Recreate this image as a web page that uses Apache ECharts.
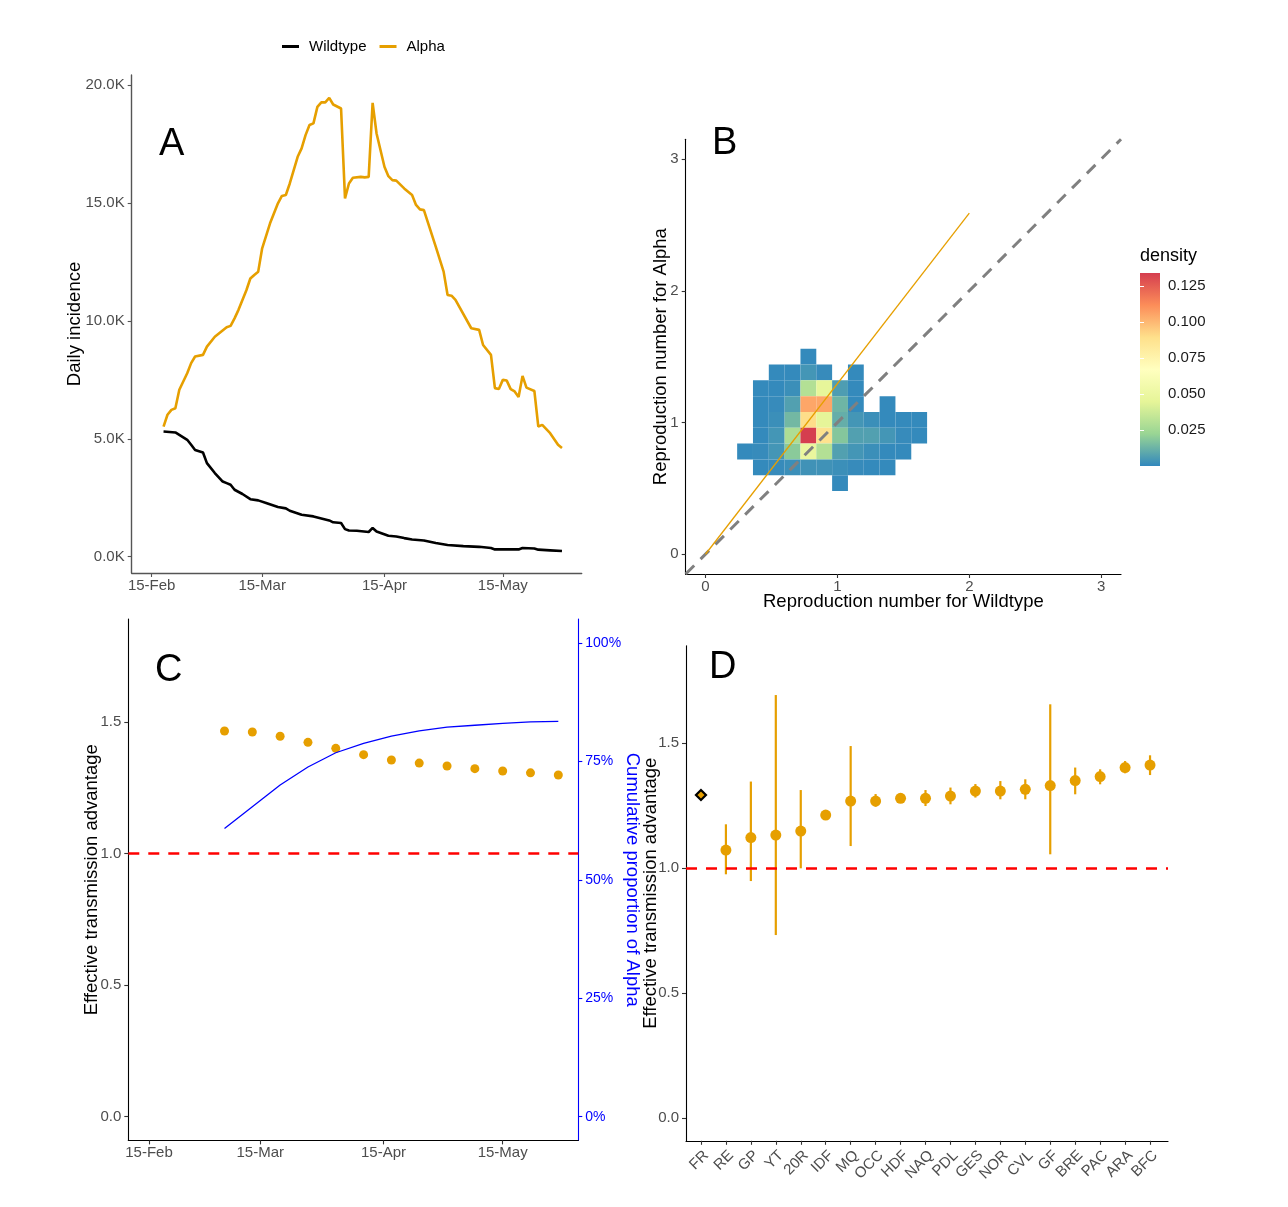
<!DOCTYPE html>
<html><head><meta charset="utf-8">
<script src="https://cdn.jsdelivr.net/npm/echarts@6/dist/echarts.min.js"></script>
<style>html,body{margin:0;padding:0;background:#fff}#c{width:1288px;height:1207px}</style>
</head><body><div id="c"></div>
<script>
// ---------- Panel A: daily incidence (days since 15-Feb-2021, thousands) ----------
const timeTickDays = [0, 28, 59, 89];
const timeTickLabels = ['15-Feb', '15-Mar', '15-Apr', '15-May'];
const wtDay = [3,6,7,9,10,11,13,14,16,18,19,20,21,23,25,27,29,32,34,35,38,41,45,46,48,49,50,52,55,56,57,60,62,64,66,69,72,75,79,83,86,87,93,94,97,98,101,104];
const wtK = [5.31,5.27,5.17,4.96,4.75,4.53,4.42,3.97,3.55,3.19,3.12,3.05,2.84,2.66,2.44,2.39,2.28,2.11,2.05,1.95,1.78,1.71,1.54,1.46,1.43,1.17,1.11,1.10,1.05,1.22,1.07,0.89,0.86,0.79,0.73,0.69,0.58,0.50,0.45,0.42,0.37,0.31,0.31,0.37,0.35,0.30,0.27,0.24];
const alphaDay = [3,4,5,6,7,9,10,11,13,14,16,19,20,21,22,24,25,26,27,28,30,32,33,34,35,37,38,39,40,41,42,43,44,45,46,48,49,50,51,53,54,55,56,57,59,60,61,62,64,65,66,67,68,69,72,74,75,76,77,81,83,84,86,87,88,89,90,91,92,93,94,95,97,98,99,101,103,104];
const alphaK = [5.52,6.02,6.23,6.30,7.08,7.78,8.21,8.49,8.56,8.91,9.33,9.73,9.79,10.11,10.47,11.3,11.8,11.95,12.09,13.08,14.14,14.99,15.30,15.34,15.83,16.96,17.32,17.88,18.31,18.38,19.08,19.27,19.27,19.46,19.18,19.01,15.20,15.83,16.07,16.11,16.09,16.11,19.25,17.95,16.54,16.14,15.97,15.95,15.62,15.48,15.34,14.92,14.73,14.70,13.15,12.09,11.10,11.07,10.89,9.69,9.62,8.98,8.56,7.15,7.11,7.50,7.47,7.11,7.01,6.77,7.67,7.17,7.03,5.52,5.59,5.24,4.75,4.61];
const incidenceTicksK = [0, 5, 10, 15, 20];

// ---------- Panel B: 2D density of reproduction numbers ----------
const rTicks = [0, 1, 2, 3];
const binWidth = 0.12;
const densityColStarts = [0.24,0.36,0.48,0.60,0.72,0.84,0.96,1.08,1.20,1.32,1.44,1.56];
const densityRowStarts = [1.44,1.32,1.20,1.08,0.96,0.84,0.72,0.60,0.48];
const densityGrid = [
  [null,null,null,null,0.0005,null,null,null,null,null,null,null],
  [null,null,0.0005,0.0005,0.004,0.001,null,0.0005,null,null,null,null],
  [null,0.0005,0.0005,0.002,0.030,0.046,0.006,0.0005,null,null,null,null],
  [null,0.0005,0.001,0.007,0.105,0.105,0.013,0.0005,null,0.0005,null,null],
  [null,0.0005,0.002,0.014,0.090,0.045,0.011,0.004,0.002,0.0005,0.0005,0.0005],
  [null,0.0005,0.004,0.028,0.134,0.088,0.018,0.007,0.007,0.004,0.001,0.0005],
  [0.0005,0.001,0.004,0.019,0.048,0.030,0.007,0.004,0.002,0.0005,0.0005,null],
  [null,0.0005,0.001,0.002,0.003,0.003,0.002,0.001,0.0005,0.0005,null,null],
  [null,null,null,null,null,null,0.0005,null,null,null,null,null]
];
const densityMax = 0.134;
const densityTicks = [0.025, 0.050, 0.075, 0.100, 0.125];
const fitLineWt = [0, 2];
const fitLineAlpha = [0, 2.59];
const rAxisRange = [-0.15, 3.15];

// ---------- Panel C: weekly advantage + cumulative proportion ----------
const cDays = [19,26,33,40,47,54,61,68,75,82,89,96,103];
const cAdvantage = [1.465,1.461,1.445,1.422,1.399,1.375,1.355,1.343,1.332,1.322,1.313,1.306,1.298];
const cAlphaPct = [60.8,65.4,70.0,73.8,76.8,78.8,80.3,81.4,82.2,82.6,83.0,83.3,83.4];
const advTicks = [0, 0.5, 1.0, 1.5];
const pctTicks = [0, 25, 50, 75, 100];

// ---------- Panel D: regional advantage ----------
const regions = ['FR','RE','GP','YT','20R','IDF','MQ','OCC','HDF','NAQ','PDL','GES','NOR','CVL','GF','BRE','PAC','ARA','BFC'];
const regionEst = [1.293,1.073,1.123,1.133,1.149,1.213,1.269,1.269,1.280,1.280,1.289,1.309,1.309,1.316,1.331,1.351,1.367,1.403,1.413];
const regionLow = [null,0.976,0.949,0.733,1.000,null,1.089,1.246,null,1.249,1.256,1.283,1.276,1.276,1.056,1.296,1.336,1.380,1.373];
const regionHigh = [null,1.176,1.347,1.693,1.313,null,1.489,1.297,null,1.313,1.323,1.337,1.349,1.356,1.656,1.403,1.396,1.429,1.452];

// ---------- styling ----------
const FONT = '"Liberation Sans", Arial, Helvetica, sans-serif';
const ORANGE = '#E69F00';
const tickText = { color: '#4d4d4d', fontSize: 15, fontFamily: FONT };
const titleText = { color: '#000', fontSize: 18.5, fontFamily: FONT };
const spectral = ['#3288bd','#99d594','#e6f598','#ffffbf','#fee08b','#fc8d59','#d53e4f'];

function hex2rgb(h){ return [1,3,5].map(i => parseInt(h.slice(i,i+2),16)); }
function densityColor(d){
  let t = Math.max(0, Math.min(1, d / densityMax)) * (spectral.length - 1);
  const i = Math.min(Math.floor(t), spectral.length - 2), f = t - i;
  const a = hex2rgb(spectral[i]), b = hex2rgb(spectral[i+1]);
  return 'rgb(' + a.map((v,k) => Math.round(v + (b[k]-v)*f)).join(',') + ')';
}

function axis(o){
  const lineColor = o.lineColor || '#000';
  const tickColor = o.tickColor || '#333';
  const lbl = Object.assign({}, tickText, o.labelStyle || {});
  return {
    type: 'value', gridIndex: o.grid, min: o.min, max: o.max, position: o.position,
    splitLine: { show: false },
    axisLine: { show: true, onZero: false, lineStyle: { color: lineColor, width: o.lineWidth || 1.1 } },
    axisTick: { show: true, length: 4, customValues: o.ticks, lineStyle: { color: tickColor, width: 1.1 } },
    axisLabel: Object.assign({ customValues: o.ticks, formatter: o.fmt, margin: o.margin || 7, rotate: o.rotate || 0 }, lbl),
    name: o.name || '', nameLocation: 'middle', nameGap: o.nameGap || 0, nameRotate: o.nameRotate,
    nameMoveOverlap: false,
    nameTextStyle: Object.assign({}, titleText, o.nameStyle || {})
  };
}

const wtData = wtDay.map((d,i) => [d, wtK[i]]);
const alphaData = alphaDay.map((d,i) => [d, alphaK[i]]);
const timeFmt = v => timeTickLabels[timeTickDays.indexOf(Math.round(v))] || '';

const heatData = [];
densityRowStarts.forEach((y, r) => densityColStarts.forEach((x, c) => {
  const d = densityGrid[r][c];
  if (d != null) heatData.push([x, y, d]);
}));

const cAdvData = cDays.map((d,i) => [d, cAdvantage[i]]);
const cPctData = cDays.map((d,i) => [d, cAlphaPct[i]]);
const regionIdx = regions.map((_, i) => i + 1);
const dPoints = regions.map((r, i) => {
  const item = { value: [i + 1, regionEst[i]] };
  if (r === 'FR') {
    item.symbol = 'diamond'; item.symbolSize = 10;
    item.itemStyle = { color: ORANGE, borderColor: '#000', borderWidth: 2.2 };
  }
  return item;
});
const dBars = [];
regions.forEach((r, i) => { if (regionLow[i] != null) dBars.push([i + 1, regionLow[i], regionHigh[i]]); });

const redLine = {
  silent: true, symbol: ['none','none'], label: { show: false }, animation: false,
  lineStyle: { color: '#ff0000', width: 2.5, type: [11, 9] }, data: [{ yAxis: 1 }]
};

const colorbarTick = { show: true, inside: true, length: 4, customValues: densityTicks, lineStyle: { color: '#fff', width: 1 } };

const option = {
  animation: false,
  backgroundColor: '#fff',
  legend: {
    data: ['Wildtype', 'Alpha'], left: 277, top: 34, icon: 'rect', itemWidth: 17, itemHeight: 3, itemGap: 13,
    textStyle: { color: '#000', fontSize: 15, fontFamily: FONT, padding: [0, 0, 0, 5] }
  },
  grid: [
    { left: 131.7, top: 75, width: 450, height: 498 },
    { left: 685.7, top: 139.3, width: 435.3, height: 434.7 },
    { left: 128.3, top: 619.1, width: 450, height: 521.3 },
    { left: 686, top: 645.8, width: 482, height: 495 },
    { left: 1140, top: 273, width: 20, height: 193 }
  ],
  xAxis: [
    axis({ grid: 0, min: -5.07, max: 109.0, ticks: timeTickDays, fmt: timeFmt, lineColor: '#555', tickColor: '#555', lineWidth: 1.4, margin: 5 }),
    axis({ grid: 1, min: rAxisRange[0], max: rAxisRange[1], ticks: rTicks, fmt: v => String(v), margin: 5,
           name: 'Reproduction number for Wildtype', nameGap: 18 }),
    axis({ grid: 2, min: -5.21, max: 108.03, ticks: timeTickDays, fmt: timeFmt, margin: 5 }),
    axis({ grid: 3, min: 0.4, max: 19.72, ticks: regionIdx, fmt: v => regions[Math.round(v) - 1] || '', rotate: 45, margin: 7,
           labelStyle: { verticalAlign: 'top' } }),
    { type: 'value', gridIndex: 4, min: 0, max: 1, show: false }
  ],
  yAxis: [
    axis({ grid: 0, min: -0.69, max: 20.43, ticks: incidenceTicksK, fmt: v => v.toFixed(1) + 'K', lineColor: '#555', tickColor: '#555', lineWidth: 1.4,
           name: 'Daily incidence', nameGap: 47.5 }),
    axis({ grid: 1, min: rAxisRange[0], max: rAxisRange[1], ticks: rTicks, fmt: v => String(v),
           name: 'Reproduction number for Alpha', nameGap: 15 }),
    axis({ grid: 2, min: -0.09, max: 1.89, ticks: advTicks, fmt: v => v.toFixed(1),
           name: 'Effective transmission advantage', nameGap: 27 }),
    axis({ grid: 2, min: -5, max: 105, position: 'right', ticks: pctTicks, fmt: v => v + '%', lineColor: '#0000ff', tickColor: '#0000ff',
           labelStyle: { color: '#0000ff', fontSize: 14 }, name: 'Cumulative proportion of Alpha', nameGap: 44, nameRotate: -90,
           nameStyle: { color: '#0000ff' } }),
    axis({ grid: 3, min: -0.09, max: 1.89, ticks: advTicks, fmt: v => v.toFixed(1),
           name: 'Effective transmission advantage', nameGap: 26 }),
    { type: 'value', gridIndex: 4, min: 0, max: densityMax, position: 'right', splitLine: { show: false },
      axisLine: { show: false }, axisTick: colorbarTick, z: 5,
      axisLabel: { customValues: densityTicks, formatter: v => v.toFixed(3), margin: 8, color: '#1a1a1a', fontSize: 15, fontFamily: FONT } },
    { type: 'value', gridIndex: 4, min: 0, max: densityMax, position: 'left', splitLine: { show: false },
      axisLine: { show: false }, axisTick: colorbarTick, axisLabel: { show: false }, z: 5 }
  ],
  series: [
    { name: 'Wildtype', type: 'line', xAxisIndex: 0, yAxisIndex: 0, data: wtData, showSymbol: false,
      lineStyle: { color: '#000', width: 2.6 }, itemStyle: { color: '#000' } },
    { name: 'Alpha', type: 'line', xAxisIndex: 0, yAxisIndex: 0, data: alphaData, showSymbol: false,
      lineStyle: { color: ORANGE, width: 2.6 }, itemStyle: { color: ORANGE } },
    { type: 'custom', xAxisIndex: 1, yAxisIndex: 1, data: heatData, clip: true,
      renderItem: (params, api) => {
        const x = api.value(0), y = api.value(1), d = api.value(2);
        const p0 = api.coord([x, y + binWidth]), p1 = api.coord([x + binWidth, y]);
        return { type: 'rect', shape: { x: p0[0], y: p0[1], width: p1[0] - p0[0], height: p1[1] - p0[1] },
                 style: { fill: densityColor(d) } };
      } },
    { type: 'line', xAxisIndex: 1, yAxisIndex: 1, showSymbol: false, silent: true,
      data: [[rAxisRange[0], rAxisRange[0]], [rAxisRange[1], rAxisRange[1]]],
      lineStyle: { color: '#808080', width: 3, type: [12, 9] } },
    { type: 'line', xAxisIndex: 1, yAxisIndex: 1, showSymbol: false, silent: true,
      data: fitLineWt.map((x, i) => [x, fitLineAlpha[i]]),
      lineStyle: { color: ORANGE, width: 1.3 } },
    { type: 'line', xAxisIndex: 2, yAxisIndex: 3, data: cPctData, showSymbol: false,
      lineStyle: { color: '#0000ff', width: 1.3 } },
    { type: 'scatter', xAxisIndex: 2, yAxisIndex: 2, data: cAdvData, symbolSize: 9,
      itemStyle: { color: ORANGE, opacity: 1 }, markLine: redLine },
    { type: 'custom', xAxisIndex: 3, yAxisIndex: 4, data: dBars,
      renderItem: (params, api) => {
        const a = api.coord([api.value(0), api.value(1)]), b = api.coord([api.value(0), api.value(2)]);
        return { type: 'line', shape: { x1: a[0], y1: a[1], x2: b[0], y2: b[1] }, style: { stroke: ORANGE, lineWidth: 2.2 } };
      } },
    { type: 'scatter', xAxisIndex: 3, yAxisIndex: 4, data: dPoints, symbolSize: 11,
      itemStyle: { color: ORANGE, opacity: 1 }, markLine: redLine, z: 3 },
    { type: 'custom', xAxisIndex: 4, yAxisIndex: 5, data: [[0, 0, 1, densityMax]], z: 1,
      renderItem: (params, api) => {
        const p0 = api.coord([api.value(0), api.value(3)]), p1 = api.coord([api.value(2), api.value(1)]);
        const stops = spectral.map((c, i) => ({ offset: 1 - i / (spectral.length - 1), color: c }));
        return { type: 'rect', shape: { x: p0[0], y: p0[1], width: p1[0] - p0[0], height: p1[1] - p0[1] },
                 style: { fill: new echarts.graphic.LinearGradient(0, 0, 0, 1, stops.reverse()) } };
      } }
  ],
  graphic: [
    { type: 'text', x: 159, y: 145, style: { text: 'A', font: '38px ' + FONT, fill: '#000', align: 'left', verticalAlign: 'middle' } },
    { type: 'text', x: 712, y: 144, style: { text: 'B', font: '38px ' + FONT, fill: '#000', align: 'left', verticalAlign: 'middle' } },
    { type: 'text', x: 155, y: 671, style: { text: 'C', font: '38px ' + FONT, fill: '#000', align: 'left', verticalAlign: 'middle' } },
    { type: 'text', x: 709, y: 668, style: { text: 'D', font: '38px ' + FONT, fill: '#000', align: 'left', verticalAlign: 'middle' } },
    { type: 'text', x: 1140, y: 256, style: { text: 'density', font: '18px ' + FONT, fill: '#000', align: 'left', verticalAlign: 'middle' } }
  ]
};

const chart = echarts.init(document.getElementById('c'), null, { renderer: 'canvas', width: 1288, height: 1207 });
chart.setOption(option);
</script></body></html>
